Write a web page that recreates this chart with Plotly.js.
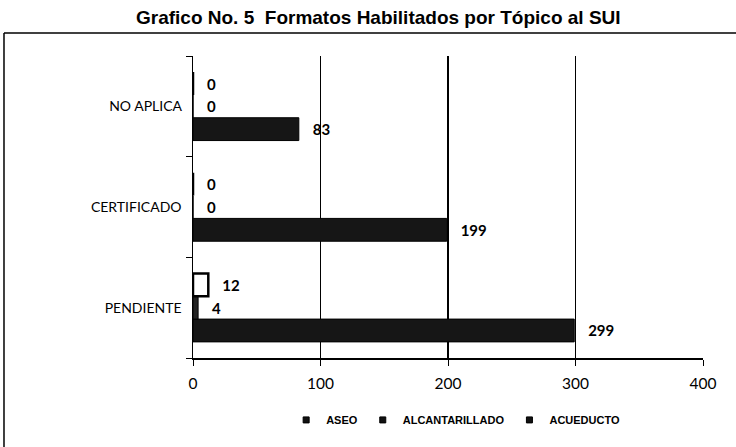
<!DOCTYPE html>
<html><head><meta charset="utf-8">
<script src="https://cdn.plot.ly/plotly-3.0.1.min.js"></script>
<style>html,body{margin:0;padding:0;background:#fff;}#chart{width:736px;height:447px;}</style>
</head><body><div id="chart"></div>
<script>
const categories = ['PENDIENTE', 'CERTIFICADO', 'NO APLICA'];
const acueducto = [299, 199, 83];
const alcantarillado = [4, 0, 0];
const aseo = [12, 0, 0];
const xTicks = [0, 100, 200, 300, 400];
const seriesNames = ['ACUEDUCTO', 'ALCANTARILLADO', 'ASEO'];

const labelFont = {family: 'Lato, "Open Sans", sans-serif', size: 14, color: '#000'};
const tickFont = {family: 'Lato, "Open Sans", sans-serif', size: 15.5, color: '#000'};
const valueFont = {family: 'Lato, "Open Sans", sans-serif', size: 15, color: '#000', weight: 'bold'};
function trace(name, vals, color, lineW) {
  return {
    type: 'bar', orientation: 'h', name: name, y: categories, x: vals,
    text: vals.map(v => '\u00a0\u00a0\u00a0' + v), textposition: 'outside', cliponaxis: false,
    textfont: valueFont, showlegend: false, legendgroup: name,
    marker: {color: color, line: {color: '#000', width: lineW}}
  };
}
function legendEntry(name) {
  return {type: 'scatter', mode: 'markers', name: name, legendgroup: name,
          x: [null], y: [null], showlegend: true,
          marker: {symbol: 'square', size: 6, color: '#111', line: {color: '#000', width: 1}}};
}
const data = [
  trace(seriesNames[0], acueducto, '#161616', 1),
  trace(seriesNames[1], alcantarillado, '#222222', 1),
  trace(seriesNames[2], aseo, '#ffffff', 2.5),
  legendEntry(seriesNames[0]), legendEntry(seriesNames[1]), legendEntry(seriesNames[2])
];
const layout = {
  width: 736, height: 447,
  margin: {l: 193, r: 33, t: 56, b: 89},
  paper_bgcolor: '#fff', plot_bgcolor: '#fff',
  barmode: 'group', bargap: 0.32, bargroupgap: 0,
  title: {text: 'Grafico No. 5\u00a0 Formatos Habilitados por Tópico al SUI',
          font: {family: '"Liberation Sans", Arial, sans-serif', size: 19, color: '#000', weight: 'bold'},
          x: 0.514, xanchor: 'center', y: 0.962, yanchor: 'middle', yref: 'container'},
  xaxis: {range: [0, 400], tickvals: xTicks, ticktext: xTicks.map(String),
          showgrid: true, gridcolor: '#000', gridwidth: 1.5,
          showline: true, linecolor: '#000', linewidth: 1.5,
          ticks: 'outside', ticklen: 6, tickcolor: '#000', zeroline: false,
          ticklabelstandoff: 5, tickfont: tickFont, fixedrange: true},
  yaxis: {categoryorder: 'array', categoryarray: categories,
          showline: true, linecolor: '#000', linewidth: 1.5,
          ticks: 'outside', tickson: 'boundaries', ticklen: 6, tickcolor: '#000',
          showgrid: false, tickfont: labelFont, ticksuffix: '  ', fixedrange: true},
  showlegend: true,
  legend: {orientation: 'h', traceorder: 'reversed', x: 0.515, xanchor: 'center',
           y: -0.205, yanchor: 'middle', itemwidth: 30, tracegroupgap: 0,
           entrywidthmode: 'pixels',
           font: {family: '"Liberation Sans", Arial, sans-serif', size: 11, color: '#000', weight: 'bold'}},
  shapes: [
    {type: 'line', xref: 'paper', yref: 'paper', x0: -0.3706, x1: 1.07, y0: 1.076, y1: 1.076, line: {color: '#000', width: 1.5}},
    {type: 'line', xref: 'paper', yref: 'paper', x0: -0.3706, x1: -0.3706, y0: 1.076, y1: -0.31, line: {color: '#000', width: 1.5}}
  ]
};
Plotly.newPlot('chart', data, layout, {displayModeBar: false, staticPlot: true});
</script></body></html>
